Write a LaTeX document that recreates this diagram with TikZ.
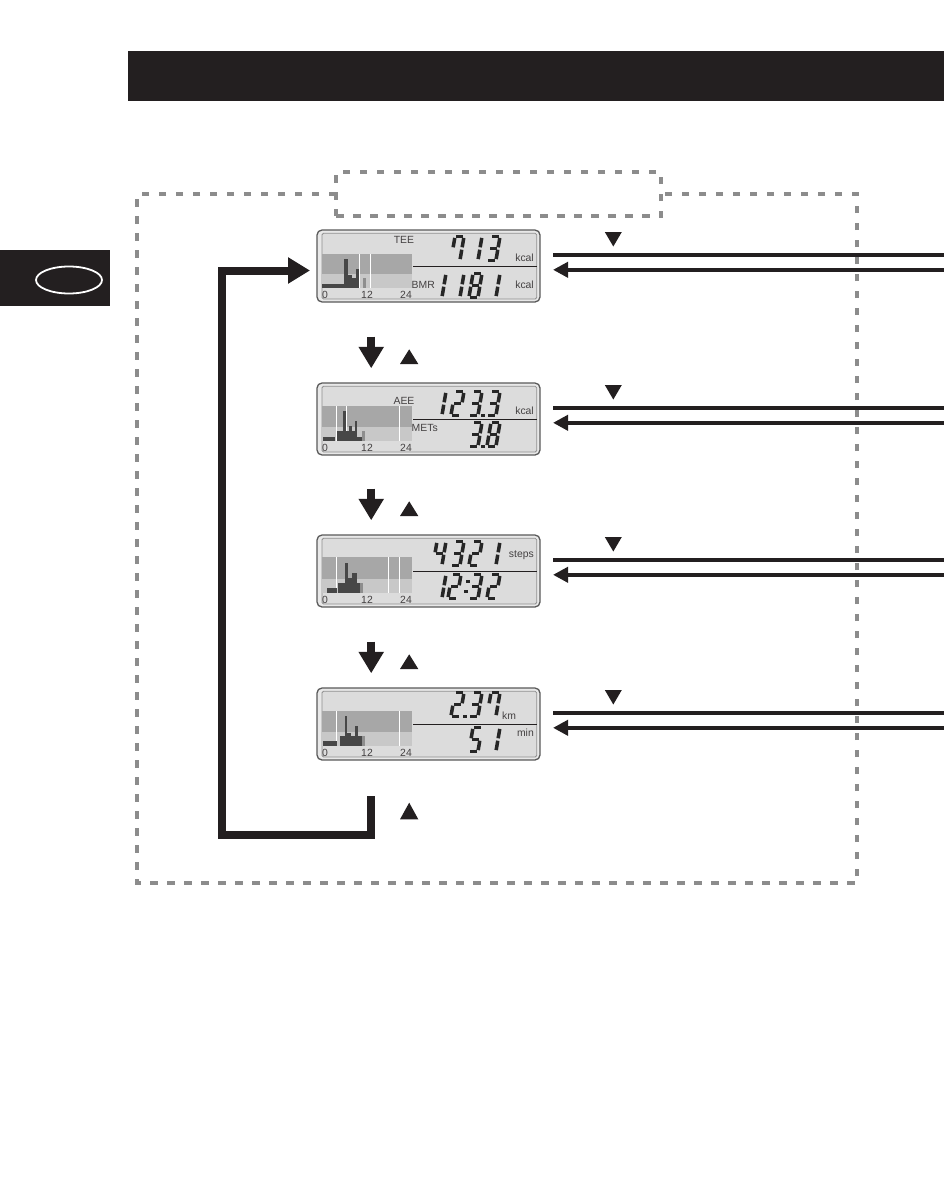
\documentclass[tikz,border=0pt]{standalone}
\usepackage{fontspec}
\setmainfont{Liberation Sans}
\usetikzlibrary{arrows.meta,shapes.geometric}
\definecolor{ink}{HTML}{231F20}
\definecolor{dashgray}{HTML}{8C8C8C}
\definecolor{lcdframe}{HTML}{E8E8E8}
\definecolor{lcdbg}{HTML}{DCDCDC}
\definecolor{lcdedge}{HTML}{5A5A5A}
\definecolor{lcdinneredge}{HTML}{8F8F8F}
\definecolor{graphdark}{HTML}{A7A7A7}
\definecolor{graphlight}{HTML}{C8C8C8}
\definecolor{barcol}{HTML}{474747}
\definecolor{barlight}{HTML}{8E8E8E}
\definecolor{segcol}{HTML}{262626}
\tikzset{
 dashbox/.style={draw=dashgray, line width=4.7pt, dash pattern=on 7.5pt off 9.5pt},
 lcdouter/.style={draw=lcdedge, line width=1.3pt, fill=lcdframe, rounded corners=5pt, minimum width=223pt, minimum height=72pt, inner sep=0pt, outer sep=0pt},
 lcdinner/.style={draw=lcdinneredge, line width=0.8pt, fill=lcdbg, rounded corners=1.5pt},
 sepline/.style={draw=ink, line width=1pt},
 segline/.style={draw=segcol, line width=3.5pt, line cap=butt},
 lcdlab/.style={inner sep=0pt, font=\fontsize{10.4}{11}\selectfont, text=ink!85},
 wire/.style={draw=ink, line width=4pt},
 wirearrow/.style={wire, -{Triangle[length=15pt,width=15pt]}},
 blockarrow/.style={draw=ink, line width=8pt, -{Triangle[length=21.5pt,width=24pt]}},
 loopline/.style={draw=ink, line width=8pt, -{Triangle[length=22pt,width=25pt]}},
}
\newcommand\lcdsega{\draw[segline] (1.4,0)--(7.6,0);}
\newcommand\lcdsegb{\draw[segline] (9,1.4)--(9,10.8);}
\newcommand\lcdsegc{\draw[segline] (9,13.2)--(9,22.6);}
\newcommand\lcdsegd{\draw[segline] (1.4,24)--(7.6,24);}
\newcommand\lcdsege{\draw[segline] (0,13.2)--(0,22.6);}
\newcommand\lcdsegf{\draw[segline] (0,1.4)--(0,10.8);}
\newcommand\lcdsegg{\draw[segline] (1.4,12)--(7.6,12);}
\newcommand\lcddigit[3]{%
 \ifcase#3 \def\lcdsegs{a,b,c,d,e,f}\or \def\lcdsegs{b,c}\or \def\lcdsegs{a,b,g,e,d}\or
 \def\lcdsegs{a,b,g,c,d}\or \def\lcdsegs{f,g,b,c}\or \def\lcdsegs{a,f,g,c,d}\or
 \def\lcdsegs{a,f,g,e,c,d}\or \def\lcdsegs{a,b,c,f}\or \def\lcdsegs{a,b,c,d,e,f,g}\or
 \def\lcdsegs{a,b,c,d,f,g}\fi
 \begin{scope}[shift={(#1,#2)}, xslant=0.17]
  \foreach \s in \lcdsegs {\csname lcdseg\s\endcsname}
 \end{scope}}
\newcommand\lcddot[2]{\fill[segcol] (#1-1.7,#2-1.7) rectangle (#1+1.7,#2+1.7);}
\newcommand\lcdpanel[6]{%
 \node[lcdouter, anchor=north west] (#1) at (317,#2) {};
 \begin{scope}[shift={(0,#2)}]
  \draw[lcdinner] (322,3.3) rectangle (536.7,69);
  \fill[graphdark] (322.4,#3) rectangle (411.5,44);
  \fill[graphlight] (322.4,44) rectangle (411.5,58.3);
  \foreach \d in {#4} {\draw[white, line width=0.7pt] (\d,#3) -- (\d,58.3);}
  \foreach \a/\b/\t in {#5} {\fill[barcol] (\a,\t) rectangle (\b,58.3);}
  \foreach \a/\b/\t in {#6} {\fill[barlight] (\a,\t) rectangle (\b,58.3);}
  \draw[sepline] (413,36.5) -- (536.7,36.5);
  \node[lcdlab, anchor=base] at (325,68.3) {0};
  \node[lcdlab, anchor=base] at (367,68.3) {12};
  \node[lcdlab, anchor=base] at (406,68.3) {24};
 \end{scope}}
\newcommand\sidewires[2]{%
 \coordinate (#1ta) at (944,#2+25.2); \coordinate (#1tb) at (553,#2+25.2);
 \coordinate (#1ba) at (944,#2+39.8); \coordinate (#1bb) at (553,#2+39.8);
 \draw[wire] (#1ta) -- (#1tb);
 \draw[wirearrow] (#1ba) -- (#1bb);
 \fill[ink] (604.8,#2+2) -- (621.8,#2+2) -- (613.3,#2+16.5) -- cycle;}
\newcommand\steparrow[2]{%
 \coordinate (#1a) at (371.2,#2-46.3); \coordinate (#1b) at (371.2,#2-14.7);
 \draw[blockarrow] (#1a) -- (#1b);
 \fill[ink] (400,#2-19) -- (418.3,#2-19) -- (409.2,#2-33.7) -- cycle;}
\begin{document}
\begin{tikzpicture}[x=1pt,y=-1pt]
\useasboundingbox (0,0) rectangle (944,1199);
\fill[white] (0,0) rectangle (944,1199);
% header bar and side tab
\node[fill=ink, anchor=north west, minimum width=816pt, minimum height=50pt, inner sep=0pt, outer sep=0pt] (header) at (128,51) {};
\node[fill=ink, anchor=north west, minimum width=110pt, minimum height=56pt, inner sep=0pt, outer sep=0pt] (tab) at (0,250) {};
\node[draw=white, line width=1.8pt, ellipse, minimum width=66pt, minimum height=27pt, inner sep=0pt] (tabmark) at (69,280) {};
% dashed frame
\draw[dashbox] (336,194) -- (137,194) -- (137,883) -- (857,883) -- (857,194) -- (661,194);
\node[dashbox, anchor=north west, minimum width=325pt, minimum height=44pt, inner sep=0pt, outer sep=0pt] (titlebox) at (336,172) {};
% panels
\lcdpanel{disp1}{230}{24}{359.3,370}{322.4/344.3/54.3, 344.3/348.3/29, 348.3/352.3/45, 352.3/355.7/48.3, 355.7/359/39}{362.7/366/48.3}
\lcdpanel{disp2}{383}{23.3}{336.7,346,399.3}{322.7/335/54.3, 336.7/342.7/48.3, 342.7/346/28.3, 346/349.3/47.7, 349.3/351.7/43.3, 351.7/355/48.3, 355/356.7/38.3, 356.7/361.7/54.3}{361.7/365/48.3}
\lcdpanel{disp3}{535}{21.7}{336.7,388.3,399.3}{326.7/336.7/53.3, 338.3/345/48.3, 345/347.7/28.3, 347.7/351.7/43.3, 351.7/356.7/38.3, 356.7/360/48.3}{360/363.3/48.3}
\lcdpanel{disp4}{688}{23.3}{336.7,399.3}{322.7/336.7/53.3, 340/345/48.3, 345/346.7/28.3, 346.7/350.7/45, 350.7/355/48.3, 355/358.3/38.3, 358.3/361.7/48.3}{361.7/365/48.3}
% panel texts
\node[lcdlab, anchor=base] (tee) at (404,243.5) {TEE};
\node[lcdlab, anchor=base east] (kcal1) at (534,261.7) {kcal};
\node[lcdlab, anchor=base west] (bmr) at (411.5,288.3) {BMR};
\node[lcdlab, anchor=base east] (kcal2) at (534,288.3) {kcal};
\node[lcdlab, anchor=base] (aee) at (404,404.7) {AEE};
\node[lcdlab, anchor=base east] (kcal3) at (534,414.7) {kcal};
\node[lcdlab, anchor=base west] (mets) at (411.5,431.3) {METs};
\node[lcdlab, anchor=base east] (steps) at (534,557.3) {steps};
\node[lcdlab, anchor=base west] (km) at (502,719) {km};
\node[lcdlab, anchor=base east] (min) at (534,736.3) {min};
% digits panel 1
\lcddigit{455}{236.5}{7}\lcddigit{473}{236.5}{1}\lcddigit{491}{236.5}{3}
\lcddigit{437}{273.5}{1}\lcddigit{455}{273.5}{1}\lcddigit{473}{273.5}{8}\lcddigit{491}{273.5}{1}
% panel 2
\lcddigit{437}{391.5}{1}\lcddigit{455}{391.5}{2}\lcddigit{473}{391.5}{3}\lcddot{483}{415.5}\lcddigit{491}{391.5}{3}
\lcddigit{473}{422.5}{3}\lcddot{483}{446.5}\lcddigit{491}{422.5}{8}
% panel 3
\lcddigit{437}{541.5}{4}\lcddigit{455}{541.5}{3}\lcddigit{473}{541.5}{2}\lcddigit{491}{541.5}{1}
\lcddigit{437}{574.5}{1}\lcddigit{452}{574.5}{2}\lcddot{467.8}{581.5}\lcddot{466.1}{591.5}\lcddigit{473}{574.5}{3}\lcddigit{491}{574.5}{2}
% panel 4
\lcddigit{455}{692.5}{2}\lcddot{465}{716.5}\lcddigit{473}{692.5}{3}\lcddigit{491}{692.5}{7}
\lcddigit{473}{727.5}{5}\lcddigit{491}{727.5}{1}
% side wires
\sidewires{w1}{230}
\sidewires{w2}{383}
\sidewires{w3}{535}
\sidewires{w4}{688}
% step arrows
\steparrow{s1}{383}
\steparrow{s2}{535}
\steparrow{s3}{688}
% loop back
\coordinate (loopstart) at (371,796);
\coordinate (loopend) at (310,270.5);
\draw[loopline] (loopstart) |- (222,835) |- (loopend);
\fill[ink] (400,819.3) -- (418.3,819.3) -- (409.2,802.7) -- cycle;
\end{tikzpicture}
\end{document}
